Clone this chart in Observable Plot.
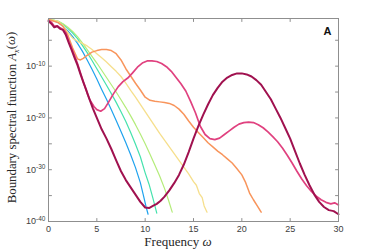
<!DOCTYPE html>
<html><head><meta charset="utf-8">
<script src="https://cdn.jsdelivr.net/npm/d3@7"></script>
<script src="https://cdn.jsdelivr.net/npm/@observablehq/plot@0.6"></script>
<style>body{margin:0;background:#fff}svg{display:block}</style>
</head><body><div id="chart"></div>
<script>
// Frequency grids (omega) and log10 of A_x(omega) for each curve
const wBlue = [0,0.5,1,1.5,2,2.5,3,3.5,4,4.5,5,5.5,6,6.5,7,7.5,8,8.5,9,9.5,9.8,10.1,10.3];
const eBlue = [-1.0,-1.2,-1.6,-2.3,-3.2,-4.3,-5.6,-7.1,-8.8,-10.6,-12.5,-14.5,-16.4,-18.4,-20.5,-22.6,-24.8,-27.1,-29.6,-32.5,-34.8,-37.2,-38.6];

const wTeal = [0,0.5,1,1.5,2,2.5,3,3.5,4,4.5,5,5.5,6,6.5,7,7.5,8,8.5,9,9.5,10,10.4,10.8,11.2];
const eTeal = [-1.0,-1.1,-1.4,-1.9,-2.7,-3.6,-4.7,-6.0,-7.4,-8.9,-10.5,-12.1,-13.7,-15.3,-17.0,-18.8,-20.7,-22.8,-25.1,-27.5,-30.6,-32.8,-35.5,-38.4];

const wGreen = [0,0.5,1,1.5,2,2.5,3,3.5,4,4.5,5,5.5,6,6.5,7,7.5,8,8.5,9,9.5,10,10.5,11,11.5,12,12.4,12.8];
const eGreen = [-1.0,-1.1,-1.3,-1.8,-2.5,-3.3,-4.3,-5.5,-6.8,-8.1,-9.4,-10.8,-12.2,-13.6,-15.0,-16.5,-18.0,-19.6,-21.3,-23.1,-25.0,-27.0,-29.1,-31.2,-33.6,-35.8,-38.2];

const wYellow = [0,0.5,1,1.5,2,2.5,3,3.5,4,4.5,5,5.5,6,6.5,7,7.5,8,8.5,9,9.5,10,10.5,11,11.5,12,12.5,13,13.5,14,14.5,15,15.3,15.6,15.9,16.1,16.4];
const eYellow = [-1.0,-1.1,-1.4,-2.2,-3.5,-4.6,-5.2,-5.6,-6.1,-6.8,-7.6,-8.4,-9.2,-10.1,-11.0,-12.0,-13.3,-14.7,-16.0,-17.4,-18.8,-20.2,-21.6,-23.0,-24.3,-25.6,-26.9,-28.2,-29.5,-30.8,-32.3,-33.0,-34.6,-35.4,-37.0,-38.2];

const wOrange = [0,0.5,1,1.5,2,2.5,3,3.3,3.6,4,4.5,5,5.5,6,6.5,7,7.5,8,8.5,9,9.5,10,10.5,11,11.5,12,12.5,13,13.5,14,14.5,15,15.5,16,16.5,17,17.5,18,18.5,19,19.5,20,20.4,20.8,21.2,21.6,22];
const eOrange = [-1.0,-1.3,-1.6,-2.3,-4.0,-6.5,-8.6,-8.8,-8.5,-7.9,-7.3,-7.0,-6.8,-6.8,-7.0,-7.6,-8.8,-10.5,-11.9,-13.3,-14.6,-16.0,-16.6,-16.8,-16.9,-17.0,-17.2,-17.6,-18.3,-19.3,-20.6,-21.8,-22.8,-23.8,-24.8,-25.6,-26.4,-27.1,-27.9,-28.7,-29.8,-31.0,-32.5,-34.5,-35.8,-37.0,-38.2];

const wPink = [0,0.3,0.6,0.9,1.2,1.5,1.8,2.1,2.4,2.7,3,3.3,3.6,4,4.3,4.7,5,5.4,5.8,6.2,6.7,7.2,7.7,8.2,8.7,9.2,9.7,10.2,10.7,11.2,11.7,12.2,12.7,13.2,13.7,14.2,14.7,15.2,15.7,16.2,16.7,17.2,17.7,18.2,18.7,19.2,19.7,20.2,20.7,21.2,21.7,22.2,22.7,23.2,23.7,24.2,24.7,25.2,25.7,26.2,26.7,27.2,27.7,28.2,28.7,29.2,29.6,30];
const ePink = [-1.2,-1.5,-2.3,-2.2,-2.6,-2.9,-3.6,-5.2,-6.6,-8.0,-9.5,-11.3,-13.0,-15.2,-16.6,-17.8,-18.4,-18.7,-18.2,-17.0,-15.4,-14.0,-13.0,-12.3,-11.3,-10.2,-9.4,-9.0,-9.0,-9.1,-9.5,-10.1,-11.0,-12.2,-13.4,-14.8,-16.8,-19.0,-21.6,-23.2,-24.0,-24.2,-23.9,-23.2,-22.5,-21.8,-21.2,-20.9,-20.8,-20.9,-21.3,-21.9,-22.7,-23.6,-24.6,-25.8,-27.2,-28.7,-30.3,-31.8,-33.1,-34.2,-35.1,-35.8,-36.3,-36.6,-36.4,-36.8];

const wCrimson = [0,0.3,0.6,0.9,1.2,1.5,1.8,2.1,2.4,2.7,3,3.3,3.6,3.9,4.2,4.6,5,5.5,6,6.5,7,7.5,8,8.5,9,9.5,10,10.4,10.8,11.2,11.6,12,12.5,13,13.5,14,14.5,15,15.5,16,16.5,17,17.5,18,18.5,19,19.5,20,20.5,21,21.5,22,22.5,23,23.5,24,24.5,25,25.5,26,26.5,27,27.5,28,28.5,29,29.5,30];
const eCrimson = [-1.3,-1.8,-2.5,-2.3,-2.8,-3.0,-4.0,-5.5,-6.9,-8.4,-9.8,-11.5,-13.1,-14.6,-16.2,-18.2,-20.0,-22.2,-24.0,-26.0,-28.2,-30.3,-32.0,-33.4,-34.8,-36.2,-37.3,-37.4,-37.0,-36.6,-36.0,-35.2,-34.0,-32.6,-31.0,-29.0,-26.6,-24.0,-21.6,-19.4,-17.4,-15.6,-14.2,-13.0,-12.2,-11.7,-11.4,-11.4,-11.6,-12.0,-12.7,-13.6,-15.0,-16.4,-18.2,-20.0,-22.0,-24.0,-26.4,-28.8,-31.0,-33.0,-34.8,-36.2,-37.2,-37.8,-38.0,-38.6];

const seriesNames = ["blue","teal","green","yellow","orange","pink","crimson"];
const seriesColors = ["#1ea2ee","#45e2ad","#b4ec7a","#f6df8c","#f8955c","#e0417f","#a0114f"];
const seriesWidths = [1.2,1.2,1.2,1.3,1.5,1.7,2.0];
const seriesW = [wBlue,wTeal,wGreen,wYellow,wOrange,wPink,wCrimson];
const seriesE = [eBlue,eTeal,eGreen,eYellow,eOrange,ePink,eCrimson];

const xTicks = [0,5,10,15,20,25,30];
const yLabelTicks = [1e-40,1e-30,1e-20,1e-10];
const yMinorTicks = [1e-40,1e-35,1e-30,1e-25,1e-20,1e-15,1e-10,1e-5];

const axisColor = "#8f8f8f";
const serif = "'Liberation Serif', 'Times New Roman', serif";
const tickShape = {draw(context, l) { context.moveTo(0, 0); context.lineTo(0, -l); }};

const lineMarks = seriesNames.map((name, i) => Plot.line(
  seriesW[i].map((w, j) => ({w, a: Math.pow(10, seriesE[i][j])})),
  {x: "w", y: "a", stroke: seriesColors[i], strokeWidth: seriesWidths[i], curve: "linear", strokeLinejoin: "round"}
));

const chart = Plot.plot({
  width: 374, height: 249,
  marginLeft: 48, marginRight: 36, marginTop: 18, marginBottom: 28,
  style: {fontFamily: "'Liberation Sans', Arial, sans-serif", background: "#fff"},
  x: {domain: [0, 30]},
  y: {type: "log", domain: [1e-40, Math.pow(10, -0.8)]},
  marks: [
    ...lineMarks,
    Plot.frame({stroke: axisColor, strokeWidth: 1}),
    Plot.axisX({ticks: xTicks, tickSize: 0, tickPadding: 4, fontSize: 9, fill: "#404040", label: null}),
    Plot.axisY({ticks: yLabelTicks, tickSize: 0, tickPadding: 3, fontSize: 9, fill: "#404040", label: null,
      tickFormat: d => "10^" + Math.round(Math.log10(d))}),
    Plot.vector(xTicks, {x: d => d, frameAnchor: "bottom", length: 3, rotate: 0, anchor: "start", shape: tickShape, stroke: axisColor, strokeWidth: 1}),
    Plot.vector(xTicks, {x: d => d, frameAnchor: "top", length: 3, rotate: 180, anchor: "start", shape: tickShape, stroke: axisColor, strokeWidth: 1}),
    Plot.vector(yMinorTicks, {y: d => d, frameAnchor: "left", length: 3, rotate: 90, anchor: "start", shape: tickShape, stroke: axisColor, strokeWidth: 1}),
    Plot.vector(yMinorTicks, {y: d => d, frameAnchor: "right", length: 3, rotate: -90, anchor: "start", shape: tickShape, stroke: axisColor, strokeWidth: 1}),
    Plot.text(["Frequency ω"], {frameAnchor: "bottom", dx: -15.5, dy: 20, lineAnchor: "middle", textAnchor: "middle",
      fontFamily: serif, fontSize: 13, fill: "#262626"}),
    Plot.text(["Boundary spectral function A_x(ω)"], {frameAnchor: "left", dx: -36.5, dy: -2.5, rotate: -90, lineAnchor: "middle", textAnchor: "middle",
      fontFamily: serif, fontSize: 12.8, fill: "#262626"}),
    Plot.text(["A"], {frameAnchor: "top-right", dx: -7, dy: 12.5, lineAnchor: "middle", textAnchor: "end",
      fontWeight: "bold", fontSize: 11, fill: "#111"})
  ]
});
document.getElementById("chart").appendChild(chart);

d3.select(chart).selectAll("text").each(function() {
  const t = d3.select(this);
  const s = t.text();
  if (s.startsWith("10^")) {
    const exp = s.split("^")[1];
    t.text("");
    t.append("tspan").text("10");
    t.append("tspan").attr("dy", "-0.5em").attr("font-size", 6.5).text(exp);
  } else if (s === "Frequency ω") {
    t.text("");
    t.append("tspan").text("Frequency ");
    t.append("tspan").attr("font-style", "italic").text("ω");
  } else if (s === "Boundary spectral function A_x(ω)") {
    t.text("");
    t.append("tspan").text("Boundary spectral function ");
    t.append("tspan").attr("font-style", "italic").text("A");
    t.append("tspan").attr("dy", "0.3em").attr("font-size", 8).attr("font-style", "italic").text("x");
    t.append("tspan").attr("dy", "-0.3em").text("(");
    t.append("tspan").attr("font-style", "italic").text("ω");
    t.append("tspan").text(")");
  }
});
</script>
</body></html>
